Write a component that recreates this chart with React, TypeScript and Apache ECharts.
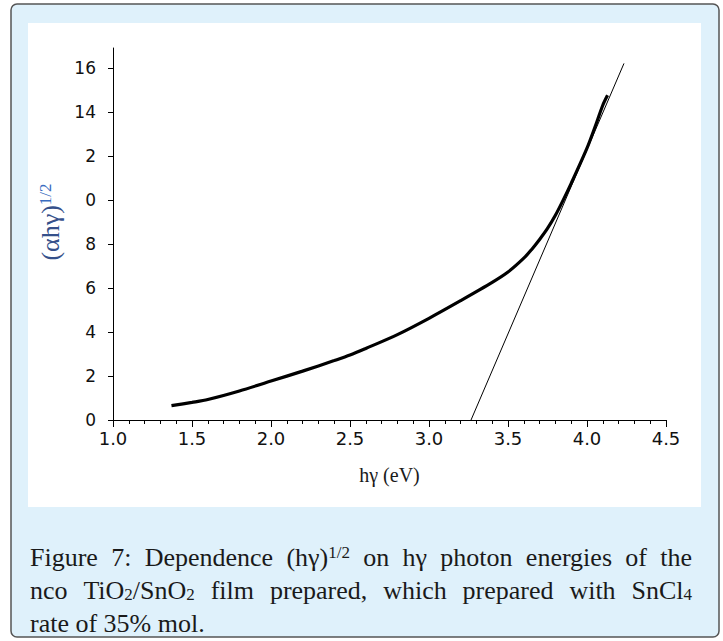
import React, { useEffect, useRef } from "react";
import * as echarts from "echarts";

// Measured curve (αhγ)^1/2 versus photon energy hγ (eV)
const photonEnergy = [1.37, 1.5, 1.6, 1.8, 2.0, 2.2, 2.4, 2.5, 2.6, 2.8, 3.0, 3.2, 3.4, 3.5, 3.6, 3.65, 3.7, 3.75, 3.8, 3.85, 3.9, 4.0, 4.05, 4.1, 4.13];
const alphaHv = [0.65, 0.8, 0.93, 1.32, 1.77, 2.22, 2.7, 2.95, 3.25, 3.88, 4.62, 5.42, 6.25, 6.72, 7.35, 7.75, 8.2, 8.7, 9.3, 10.0, 10.75, 12.35, 13.3, 14.3, 14.75];

// Linear extrapolation (tangent) line
const fitEnergy = [3.266, 4.234];
const fitValue = [0, 16.2];

// Y tick labels exactly as printed on the figure
const yTickLabels = ["0", "2", "4", "6", "8", "0", "2", "14", "16"];

const CAPTION_FONT = '"Liberation Serif", "Times New Roman", serif';
const CAPTION_SIZE = 26;
const SMALL_SIZE = 17;

type Seg = { t: string; s?: "sup" | "sub" };
const captionLine1: Seg[][] = [
  [{ t: "Figure" }], [{ t: "7:" }], [{ t: "Dependence" }],
  [{ t: "(hγ)" }, { t: "1/2", s: "sup" }], [{ t: "on" }], [{ t: "hγ" }],
  [{ t: "photon" }], [{ t: "energies" }], [{ t: "of" }], [{ t: "the" }],
];
const captionLine2: Seg[][] = [
  [{ t: "nco" }],
  [{ t: "TiO" }, { t: "2", s: "sub" }, { t: "/SnO" }, { t: "2", s: "sub" }],
  [{ t: "film" }], [{ t: "prepared," }], [{ t: "which" }], [{ t: "prepared" }],
  [{ t: "with" }], [{ t: "SnCl" }, { t: "4", s: "sub" }],
];
const captionLine3 = "rate of 35% mol.";

function measure(ctx: CanvasRenderingContext2D, word: Seg[]) {
  let w = 0;
  for (const s of word) {
    ctx.font = `${s.s ? SMALL_SIZE : CAPTION_SIZE}px ${CAPTION_FONT}`;
    w += ctx.measureText(s.t).width;
  }
  return w;
}

function richText(word: Seg[]) {
  return word.map((s) => (s.s ? `{${s.s}|${s.t}}` : `{n|${s.t}}`)).join("");
}

const rich = {
  n: { fontSize: CAPTION_SIZE, fontFamily: CAPTION_FONT, fill: "#1a1a1a", verticalAlign: "bottom" },
  sup: { fontSize: SMALL_SIZE, fontFamily: CAPTION_FONT, fill: "#1a1a1a", verticalAlign: "top" },
  sub: { fontSize: SMALL_SIZE, fontFamily: CAPTION_FONT, fill: "#1a1a1a", verticalAlign: "bottom" },
};

function justified(words: Seg[][], x0: number, x1: number, y: number) {
  const canvas = document.createElement("canvas");
  const ctx = canvas.getContext("2d") as CanvasRenderingContext2D;
  const widths = words.map((w) => measure(ctx, w));
  const total = widths.reduce((a, b) => a + b, 0);
  const gap = Math.max(4, (x1 - x0 - total) / (words.length - 1));
  let x = x0;
  return words.map((w, i) => {
    const el = {
      type: "text",
      x,
      y,
      silent: true,
      style: { text: richText(w), rich, textAlign: "left", textVerticalAlign: "bottom" },
    };
    x += widths[i] + gap;
    return el;
  });
}

export default function App() {
  const ref = useRef<HTMLDivElement>(null);
  useEffect(() => {
    if (!ref.current) return;
    const chart = echarts.init(ref.current, undefined, { renderer: "svg" });
    const curve = photonEnergy.map((x, i) => [x, alphaHv[i]]);
    const fit = fitEnergy.map((x, i) => [x, fitValue[i]]);
    const axisFont = '"DejaVu Sans", sans-serif';
    const titleFont = '"Liberation Serif", "Times New Roman", serif';
    chart.setOption({
      animation: false,
      backgroundColor: "#ffffff",
      grid: { left: 113, right: 57, top: 48, bottom: 221, containLabel: false, outerBoundsMode: "none" },
      xAxis: {
        type: "value",
        min: 1,
        max: 4.5,
        interval: 0.5,
        name: "hγ (eV)",
        nameLocation: "middle",
        nameGap: 45,
        nameTextStyle: { fontFamily: titleFont, fontSize: 20, color: "#1a1a1a" },
        axisLine: { show: true, lineStyle: { color: "#000", width: 1 } },
        axisTick: { show: true, inside: false, length: 7, lineStyle: { color: "#000" } },
        minorTick: { show: true, splitNumber: 5, length: 4, lineStyle: { color: "#000" } },
        splitLine: { show: false },
        minorSplitLine: { show: false },
        axisLabel: {
          formatter: (v: number) => v.toFixed(1),
          fontFamily: axisFont,
          fontSize: 18,
          color: "#111",
          margin: 9,
        },
      },
      yAxis: {
        type: "value",
        min: 0,
        max: 16.9,
        interval: 2,
        name: "(αhγ){sup|1/2}",
        nameLocation: "middle",
        nameGap: 46,
        nameRotate: 90,
        nameTextStyle: {
          fontFamily: titleFont,
          fontSize: 26,
          color: "#35508a",
          padding: [0, 0, 0, 24],
          rich: { sup: { fontFamily: titleFont, fontSize: 17, color: "#3a6cc0", verticalAlign: "top" } },
        },
        axisLine: { show: true, lineStyle: { color: "#000", width: 1 } },
        axisTick: { show: true, inside: false, length: 5, lineStyle: { color: "#000" } },
        splitLine: { show: false },
        axisLabel: {
          formatter: (v: number) => yTickLabels[Math.round(v / 2)] ?? "",
          fontFamily: axisFont,
          fontSize: 17,
          color: "#111",
          margin: 17,
          showMaxLabel: false,
        },
      },
      series: [
        {
          type: "line",
          data: curve,
          showSymbol: false,
          smooth: 0.3,
          lineStyle: { color: "#000", width: 3.2 },
          z: 3,
        },
        {
          type: "line",
          data: fit,
          showSymbol: false,
          lineStyle: { color: "#000", width: 1 },
          z: 4,
        },
      ],
      graphic: {
        elements: [
          {
            type: "rect",
            silent: true,
            z: -20,
            shape: { x: 11, y: 4, width: 708, height: 633, r: 6 },
            style: { fill: "#dff1fb", stroke: "#555", lineWidth: 1.5 },
          },
          {
            type: "rect",
            silent: true,
            z: -10,
            shape: { x: 28, y: 23, width: 673, height: 484 },
            style: { fill: "#ffffff" },
          },
          ...justified(captionLine1, 30, 692, 570),
          ...justified(captionLine2, 30, 692, 603),
          {
            type: "text",
            x: 30,
            y: 636,
            silent: true,
            style: { text: `{n|${captionLine3}}`, rich, textAlign: "left", textVerticalAlign: "bottom" },
          },
        ],
      },
    });
    return () => chart.dispose();
  }, []);
  return <div ref={ref} style={{ position: "absolute", left: 0, top: 0, width: 723, height: 641 }} />;
}
